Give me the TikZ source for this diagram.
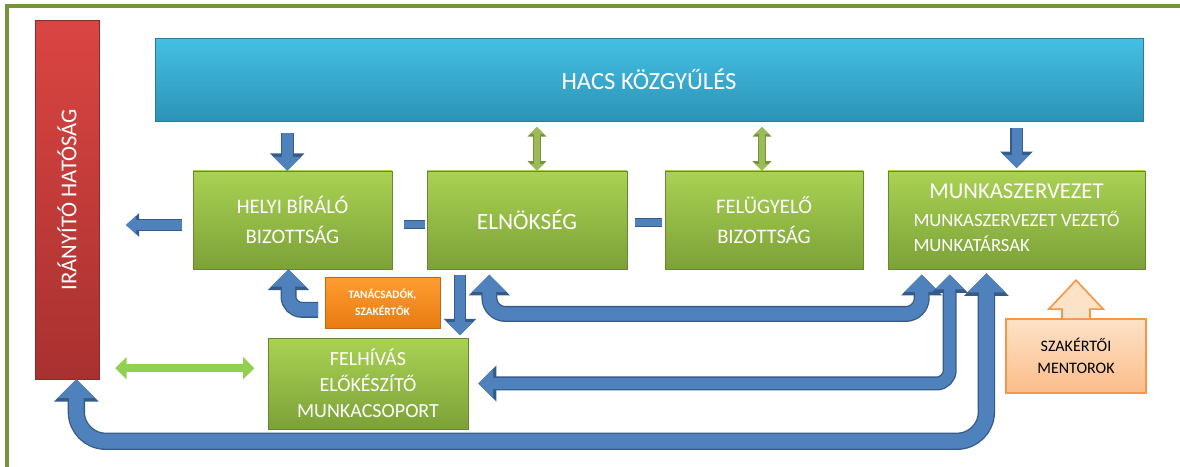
\documentclass[tikz,border=0pt]{standalone}
\usepackage{fontspec}
\setmainfont{Carlito}
\usetikzlibrary{arrows.meta,shadows,calc}
\definecolor{keretzold}{HTML}{77933C}
\definecolor{kekfent}{HTML}{43C0E4}
\definecolor{keklent}{HTML}{2D93B6}
\definecolor{kekkeret}{HTML}{2A7C98}
\definecolor{pirosfent}{HTML}{DA4542}
\definecolor{piroslent}{HTML}{A8312F}
\definecolor{piroskeret}{HTML}{8C2A28}
\definecolor{zoldfent}{HTML}{AAD253}
\definecolor{zoldlent}{HTML}{7CA138}
\definecolor{zoldkeret}{HTML}{66882E}
\definecolor{narancsfent}{HTML}{FF9D30}
\definecolor{narancslent}{HTML}{E77B12}
\definecolor{narancskeret}{HTML}{C0661A}
\definecolor{mentorfent}{HTML}{FDE2C8}
\definecolor{mentorlent}{HTML}{FBBD8A}
\definecolor{mentorkeret}{HTML}{F79646}
\definecolor{nyilbelso}{HTML}{4F81BD}
\definecolor{nyilkeret}{HTML}{365B88}
\definecolor{zoldnyilbelso}{HTML}{9BBB59}
\definecolor{zoldnyilkeret}{HTML}{74933C}
\definecolor{vilagoszold}{HTML}{92D050}
\tikzset{
  >={Triangle[width=0pt 2.5,length=0pt 1.3]},
  doboz/.style={draw=zoldkeret, top color=zoldfent, bottom color=zoldlent, text=white,
    align=center, font=\fontsize{15.5}{22}\selectfont,
    drop shadow={shadow xshift=1pt, shadow yshift=-1pt, opacity=.35}},
  nyil/.style={draw=nyilbelso, line width=#1, ->, preaction={draw=nyilkeret, line width=#1+2pt}},
  vonal/.style={draw=nyilbelso, line width=5pt, preaction={draw=nyilkeret, line width=6.5pt}},
  zoldnyil/.style={draw=zoldnyilbelso, line width=4pt, <->, preaction={draw=zoldnyilkeret, line width=5.5pt}},
}
\begin{document}
\begin{tikzpicture}[x=0.75pt,y=0.75pt]
\useasboundingbox (0,0) rectangle (1180,467);
\clip (0,0) rectangle (1180,467);
\draw[keretzold, line width=2.5pt] (7,-10) rectangle (1200,461);
% csomopontok
\node[doboz, draw=kekkeret, top color=kekfent, bottom color=keklent, font=\fontsize{18.5}{22}\selectfont,
  minimum width=741pt, minimum height=62pt] (kozgyules) at (649,387.5) {HACS KÖZGYŰLÉS};
\node[doboz, draw=piroskeret, top color=pirosfent, bottom color=piroslent, font=\fontsize{17}{20}\selectfont,
  minimum width=48pt, minimum height=269pt] (iranyito) at (67,267.5) {\rotatebox{90}{IRÁNYÍTÓ HATÓSÁG}};
\node[doboz, minimum width=149pt, minimum height=73.5pt] (biralo) at (292.5,247) {HELYI BÍRÁLÓ\\BIZOTTSÁG};
\node[doboz, minimum width=150pt, minimum height=73.5pt, font=\fontsize{17.5}{22}\selectfont] (elnokseg) at (527,247) {ELNÖKSÉG};
\node[doboz, minimum width=148.5pt, minimum height=73.5pt] (felugyelo) at (764,247) {FELÜGYELŐ\\BIZOTTSÁG};
\node[doboz, minimum width=192.75pt, minimum height=73.5pt, font=\fontsize{14}{19}\selectfont] (munka) at (1016.5,247)
  {\begin{tabular}{@{}l@{}}\multicolumn{1}{@{}c@{}}{\fontsize{17}{20}\selectfont MUNKASZERVEZET}\\[2pt]
   MUNKASZERVEZET VEZETŐ\\ MUNKATÁRSAK\end{tabular}};
\node[doboz, draw=narancskeret, top color=narancsfent, bottom color=narancslent, font=\fontsize{8.5}{13}\selectfont\bfseries,
  minimum width=86pt, minimum height=38pt] (tanacs) at (382.5,164.5) {TANÁCSADÓK,\\SZAKÉRTŐK};
\node[doboz, minimum width=150pt, minimum height=68pt, font=\fontsize{15}{19.5}\selectfont] (felhivas) at (368,83.5)
  {FELHÍVÁS\\ELŐKÉSZÍTŐ\\MUNKACSOPORT};
\node[doboz, draw=mentorkeret, line width=1.2pt, top color=mentorfent, bottom color=mentorlent, text=black,
  font=\fontsize{12}{16.5}\selectfont, minimum width=105pt, minimum height=55.5pt] (mentor) at (1076,111)
  {SZAKÉRTŐI\\MENTOROK};
\draw[mentorkeret, line width=1.2pt, fill=mentorfent] ([xshift=-10.5pt]mentor.north) -- ++(0,6.75pt) -- ++(-10pt,0)
  -- ([yshift=28.5pt]mentor.north) -- ([xshift=20.5pt,yshift=6.75pt]mentor.north) -- ++(-10pt,0)
  -- ([xshift=10.5pt]mentor.north);
% nyilak
\coordinate (b1) at ([xshift=-4pt]biralo.north);
\draw[nyil=8pt, shorten <=9pt] (kozgyules.south -| b1) -- (b1);
\draw[nyil=7.5pt, shorten <=5pt, shorten >=2pt] (kozgyules.south -| munka.north) -- (munka.north);
\coordinate (b2) at ([yshift=-3.75pt]biralo.west);
\draw[nyil=7pt, >={Triangle[width=0pt 1.9,length=0pt 1.1]}, shorten <=8pt, shorten >=20pt] (b2) -- (b2 -| iranyito.east);
\draw[vonal, shorten <=9pt, shorten >=1.5pt] ([yshift=-3.5pt]biralo.east) -- ([yshift=-3.5pt]elnokseg.west);
\draw[vonal, shorten <=6pt, shorten >=2pt] ([yshift=-2pt]elnokseg.east) -- ([yshift=-2pt]felugyelo.west);
\foreach \n/\d in {elnokseg/7.5pt, felugyelo/-1.5pt}
  \draw[zoldnyil, shorten <=4.5pt] ($(\n.north |- kozgyules.south)+(\d,0)$) -- ($(\n.north)+(\d,0)$);
\draw[draw=vilagoszold, line width=6.5pt, <->, shorten <=12pt, shorten >=10pt]
  ($(felhivas.west -| iranyito.east)+(0,11.5pt)$) -- ($(felhivas.west)+(0,11.5pt)$);
\coordinate (e1) at ([xshift=25pt]elnokseg.south west);
\draw[nyil=7.5pt, shorten <=4pt, shorten >=2pt] (e1) -- (e1 |- felhivas.north);
\draw[nyil=10pt, rounded corners=10pt, shorten <=5pt] ([yshift=-5.5pt]tanacs.west) -| ([xshift=-3pt]biralo.south);
\coordinate (e2) at ([xshift=47pt]elnokseg.south west);
\coordinate (m1) at ([xshift=25.5pt]munka.south west);
\coordinate (m2) at ([xshift=46.5pt]munka.south west);
\coordinate (m3) at ([xshift=74pt]munka.south west);
\draw[nyil=10pt, <->, rounded corners=12pt, shorten <=4pt, shorten >=4pt] (e2) -- ++(0,-33.5pt) -| (m1);
\draw[nyil=8.5pt, <->, rounded corners=10pt, shorten <=4pt, shorten >=7.5pt] (m2) |- (felhivas.east);
\draw[nyil=11pt, <->, rounded corners=22pt, shorten <=3pt] (m3) -- ++(0,-129pt) -| ([xshift=7pt]iranyito.south);
\end{tikzpicture}
\end{document}
